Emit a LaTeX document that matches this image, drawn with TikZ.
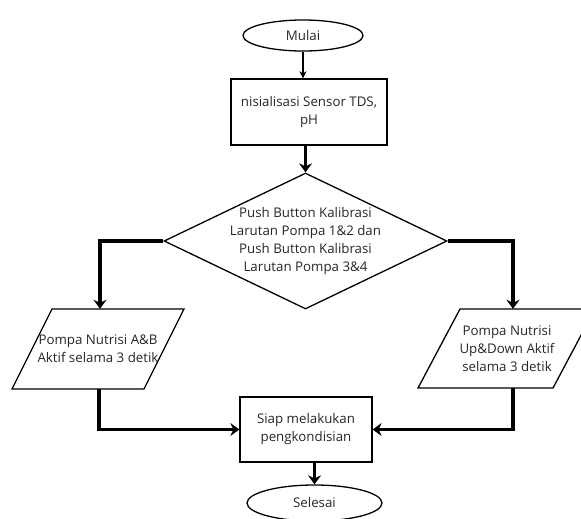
\documentclass[tikz,border=0pt]{standalone}
\usepackage{fontspec}
\setmainfont{Open Sans}
\usetikzlibrary{shapes.geometric,arrows.meta,calc}

\tikzset{
  every node/.style={font=\fontsize{13.3}{18}\selectfont, text=black!85},
  terminal/.style={ellipse, draw, line width=1.3pt, inner sep=0pt},
  procbox/.style={rectangle, draw, line width=1.3pt, inner sep=0pt, align=center},
  decision/.style={diamond, draw, line width=1.3pt, inner sep=0pt},
  iobox/.style={inner sep=0pt, align=center},
  thinflow/.style={line width=1.4pt, -{Stealth[length=7pt,width=7pt,inset=2pt]}},
  thickflow/.style={line width=3.2pt, -{Stealth[length=9pt,width=13pt,inset=3pt]}},
  slantedge/.style={draw, line width=1.3pt, line join=miter}
}

\begin{document}
\begin{tikzpicture}[x=1pt, y=-1pt]
  \useasboundingbox (0,0) rectangle (581,519);
  \clip (0,0) rectangle (581,519);

  % start / end terminals
  \node[terminal, minimum width=120pt, minimum height=31pt] (mulai) at (303,35.5) {Mulai};
  \node[terminal, minimum width=135pt, minimum height=36pt] (selesai) at (314.5,503) {Selesai};

  % initialisation step
  \node[procbox, minimum width=156pt, minimum height=66pt] (init) at (309,112)
    {nisialisasi Sensor TDS,\\pH};

  % calibration decision
  \node[decision, minimum width=283pt, minimum height=136pt] (dec) at (305.5,241) {};
  \node[align=center, inner sep=0pt] (dectext) at (305.5,241)
    {Push Button Kalibrasi\\Larutan Pompa 1\&2 dan\\Push Button Kalibrasi\\Larutan Pompa 3\&4};

  % pump outputs (parallelograms)
  \node[iobox, minimum width=132pt, minimum height=80pt] (pa) at (98,349)
    {Pompa Nutrisi A\&B\\Aktif selama 3 detik};
  \path[slantedge] ($(pa)+(-46,-40)$) -- ($(pa)+(86,-40)$) -- ($(pa)+(46,40)$)
    -- ($(pa)+(-86,40)$) -- cycle;

  \node[iobox, minimum width=135pt, minimum height=79pt] (pb) at (507,348.5)
    {Pompa Nutrisi\\Up\&Down Aktif\\selama 3 detik};
  \path[slantedge] ($(pb)+(-47,-39.5)$) -- ($(pb)+(88,-39.5)$) -- ($(pb)+(46,39.5)$)
    -- ($(pb)+(-89,39.5)$) -- cycle;

  % ready step
  \node[procbox, minimum width=132pt, minimum height=65pt] (siap) at (306,429.5)
    {Siap melakukan\\pengkondisian};

  % connectors
  \draw[thinflow] (mulai.south) -- (mulai.south |- init.north);
  \draw[thickflow] (init.south -| dec.north) -- (dec.north);
  \draw[thickflow] (dec.west) -| ([xshift=2pt]pa.north);
  \draw[thickflow] (dec.east) -| ([xshift=6pt]pb.north);
  \draw[thickflow] ([xshift=1pt]pa.south) |- (siap.west);
  \draw[thickflow] ([xshift=6pt]pb.south) |- (siap.east);
  \draw[thickflow] (siap.south -| selesai.north) -- (selesai.north);
\end{tikzpicture}
\end{document}
